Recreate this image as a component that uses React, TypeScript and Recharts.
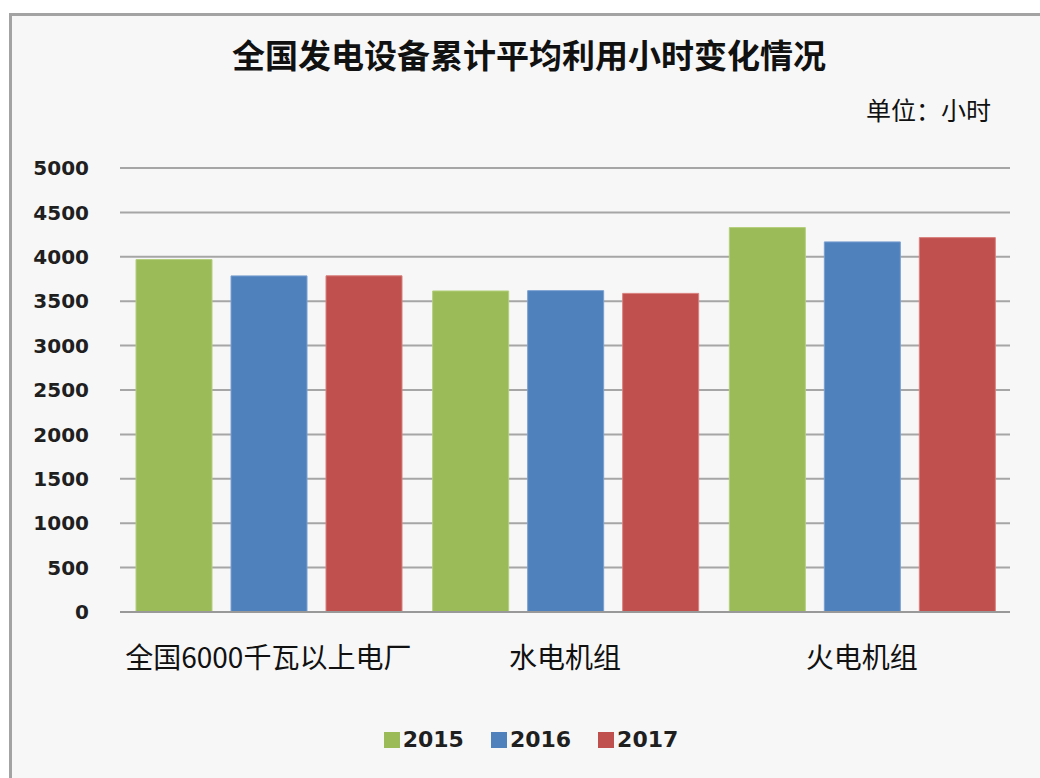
import { Bar, BarChart, CartesianGrid, XAxis, YAxis } from "recharts"

const CATEGORIES = ["全国6000千瓦以上电厂", "水电机组", "火电机组"]
const Y2015 = [3969, 3615, 4329]
const Y2016 = [3785, 3619, 4168]
const Y2017 = [3786, 3588, 4216]
const Y_TICKS = [0, 500, 1000, 1500, 2000, 2500, 3000, 3500, 4000, 4500, 5000]

const TITLE = "全国发电设备累计平均利用小时变化情况"
const UNIT = "单位：小时"

const SERIES = [
  { key: "y2015", name: "2015", fill: "#9bbb59", stroke: "#b3cf7c" },
  { key: "y2016", name: "2016", fill: "#4f81bd", stroke: "#7aa0d0" },
  { key: "y2017", name: "2017", fill: "#c0504d", stroke: "#d9807d" },
]

const data = CATEGORIES.map((name, i) => ({
  name,
  y2015: Y2015[i],
  y2016: Y2016[i],
  y2017: Y2017[i],
}))

const CJK = '"Noto Sans CJK SC", "Noto Sans", sans-serif'
const NUM = '"DejaVu Sans", Verdana, sans-serif'

export default function App() {
  return (
    <div
      style={{
        position: "relative",
        width: 1040,
        height: 778,
        overflow: "hidden",
        background: "#ffffff",
      }}
    >
      <style>{"body{margin:0}"}</style>
      <div
        style={{
          position: "absolute",
          left: 9,
          top: 13,
          width: 1100,
          height: 820,
          borderLeft: "3px solid #a3a3a3",
          borderTop: "3px solid #a3a3a3",
          background: "#f7f7f7",
        }}
      />
      <div
        style={{
          position: "absolute",
          left: 0,
          width: 1058,
          top: 38,
          textAlign: "center",
          fontFamily: CJK,
          fontWeight: 700,
          fontSize: 33,
          lineHeight: "33px",
          color: "#111",
        }}
      >
        {TITLE}
      </div>
      <div
        style={{
          position: "absolute",
          right: 49,
          top: 96,
          fontFamily: CJK,
          fontSize: 25,
          lineHeight: "26px",
          color: "#111",
        }}
      >
        {UNIT}
      </div>
      <div style={{ position: "absolute", left: 0, top: 0 }}>
        <BarChart
          width={1040}
          height={778}
          data={data}
          margin={{ top: 168, right: 30, left: 0, bottom: 0 }}
          barCategoryGap={16}
          barGap={19}
        >
          <CartesianGrid vertical={false} stroke="#a6a6a6" strokeWidth={2} />
          <XAxis
            dataKey="name"
            height={166}
            axisLine={{ stroke: "#999", strokeWidth: 2 }}
            tickLine={false}
            tickSize={0}
            tickMargin={36}
            interval={0}
            tick={{ fontFamily: CJK, fontSize: 28, fill: "#111" }}
          />
          <YAxis
            width={120}
            domain={[0, 5000]}
            ticks={Y_TICKS}
            axisLine={false}
            tickLine={false}
            tickSize={0}
            tickMargin={31}
            tick={{ fontFamily: NUM, fontWeight: 700, fontSize: 20, fill: "#1f1f1f" }}
          />
          {SERIES.map((s) => (
            <Bar
              key={s.key}
              dataKey={s.key}
              name={s.name}
              fill={s.fill}
              stroke={s.stroke}
              strokeWidth={1}
              isAnimationActive={false}
            />
          ))}
        </BarChart>
      </div>
      <div
        style={{
          position: "absolute",
          left: 0,
          width: 1062,
          top: 727,
          display: "flex",
          justifyContent: "center",
          gap: 27,
          fontFamily: NUM,
          fontWeight: 700,
          fontSize: 22,
          lineHeight: "25px",
          color: "#1f1f1f",
        }}
      >
        {SERIES.map((s) => (
          <div key={s.key} style={{ display: "flex", alignItems: "center" }}>
            <span
              style={{
                display: "inline-block",
                width: 16,
                height: 16,
                background: s.fill,
                marginRight: 3,
              }}
            />
            <span>{s.name}</span>
          </div>
        ))}
      </div>
    </div>
  )
}
